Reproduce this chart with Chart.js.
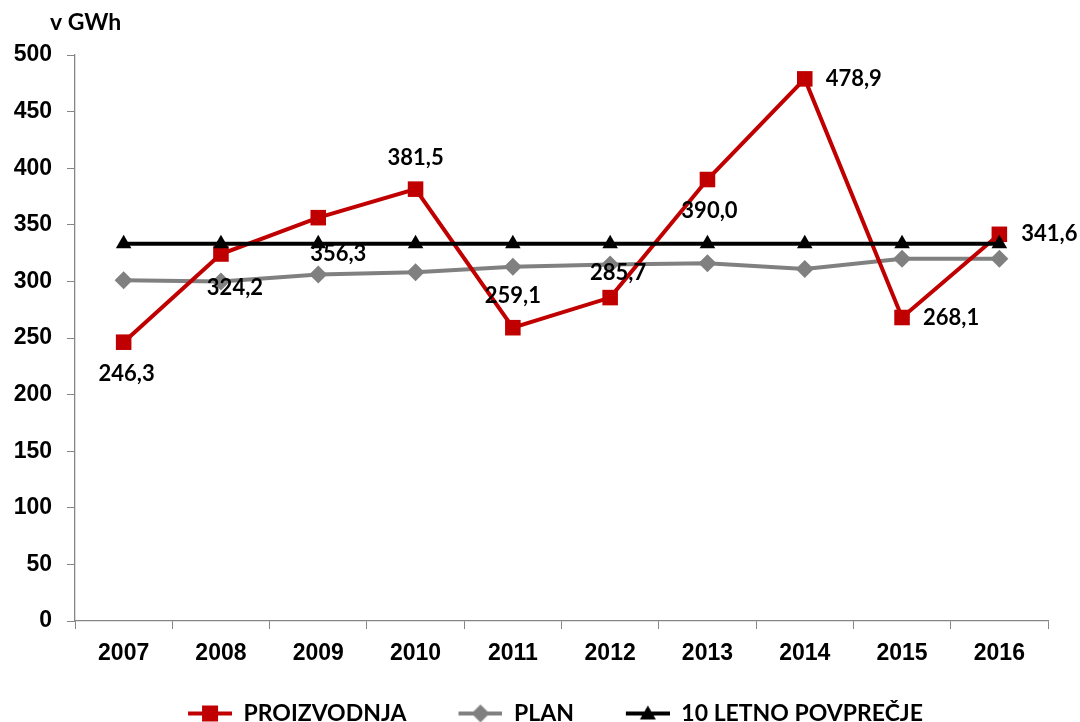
<!DOCTYPE html>
<html>
<head>
<meta charset="utf-8">
<script src="https://cdn.jsdelivr.net/npm/chart.js@4.4.1/dist/chart.umd.min.js"></script>
<style>
  html, body { margin: 0; padding: 0; background: #fff; }
  #wrap { width: 1080px; height: 722px; }
</style>
</head>
<body>
<div id="wrap"><canvas id="chart"></canvas></div>
<script>
// podatki
const leta = ['2007', '2008', '2009', '2010', '2011', '2012', '2013', '2014', '2015', '2016'];
const proizvodnja = [246.3, 324.2, 356.3, 381.5, 259.1, 285.7, 390.0, 478.9, 268.1, 341.6];
const plan = [301, 300, 306, 308, 313, 315, 316, 311, 320, 320];
const povprecje = [333.2, 333.2, 333.2, 333.2, 333.2, 333.2, 333.2, 333.2, 333.2, 333.2];
const yTicks = [0, 50, 100, 150, 200, 250, 300, 350, 400, 450, 500];

// ikona za legendo: črta z oznako
function ikona(barva, oblika, lead) {
    const c = document.createElement('canvas');
    c.width = lead + 44;
    c.height = 20;
    const ctx = c.getContext('2d');
    ctx.strokeStyle = barva;
    ctx.fillStyle = barva;
    ctx.lineWidth = 4;
    ctx.beginPath();
    ctx.moveTo(lead, 10);
    ctx.lineTo(lead + 44, 10);
    ctx.stroke();
    const cx = lead + 22;
    ctx.beginPath();
    if (oblika === 'rect') {
        ctx.rect(cx - 8, 2, 16, 16);
    } else if (oblika === 'diamond') {
        ctx.moveTo(cx, 1); ctx.lineTo(cx + 9, 10); ctx.lineTo(cx, 19); ctx.lineTo(cx - 9, 10);
    } else {
        ctx.moveTo(cx, 2); ctx.lineTo(cx + 8, 16); ctx.lineTo(cx - 8, 16);
    }
    ctx.closePath();
    ctx.fill();
    return c;
}

const LEAD = 50;

// oznake vrednosti za proizvodnjo
const oznakePlugin = {
    id: 'oznake',
    afterDatasetsDraw(chart, args, opts) {
        const ctx = chart.ctx;
        const meta = chart.getDatasetMeta(0);
        ctx.save();
        ctx.font = 'bold 22px Lato, sans-serif';
        ctx.fillStyle = '#000';
        ctx.textAlign = 'center';
        ctx.textBaseline = 'middle';
        meta.data.forEach(function (pt, i) {
            const o = opts.zamiki[i];
            const txt = proizvodnja[i].toFixed(1).replace('.', ',');
            ctx.fillText(txt, pt.x + o[0], pt.y + o[1]);
        });
        // enota
        ctx.textAlign = 'left';
        ctx.font = 'bold 23px Lato, sans-serif';
        ctx.fillText('v GWh', 50, 23);
        ctx.restore();
    }
};

new Chart(document.getElementById('chart'), {
    type: 'line',
    data: {
        labels: leta,
        datasets: [
            {
                label: 'PROIZVODNJA',
                data: proizvodnja,
                borderColor: '#C00000',
                backgroundColor: '#C00000',
                borderWidth: 4,
                pointStyle: 'rect',
                pointRadius: 11,
                pointBorderWidth: 0,
                tension: 0,
                order: 1
            },
            {
                label: 'PLAN',
                data: plan,
                borderColor: '#808080',
                backgroundColor: '#808080',
                borderWidth: 4,
                pointStyle: 'rectRot',
                pointRadius: 9,
                pointBorderWidth: 0,
                tension: 0,
                order: 2
            },
            {
                label: '10 LETNO POVPREČJE',
                data: povprecje,
                borderColor: '#000000',
                backgroundColor: '#000000',
                borderWidth: 4,
                pointStyle: 'triangle',
                pointRadius: 9,
                pointBorderWidth: 0,
                tension: 0,
                order: 0
            }
        ]
    },
    options: {
        responsive: true,
        maintainAspectRatio: false,
        animation: false,
        devicePixelRatio: 1,
        layout: {
            padding: { top: 55, left: 13, right: 32, bottom: -13 }
        },
        plugins: {
            tooltip: { enabled: false },
            oznake: {
                zamiki: [[3, 32], [14, 34], [20, 36], [0, -31], [0, -32], [8, -25], [2, 31], [49, 0], [49, 0], [50, 0]]
            },
            legend: {
                position: 'bottom',
                labels: {
                    usePointStyle: true,
                    pointStyleWidth: LEAD + 44,
                    color: '#000',
                    font: { family: 'Lato, sans-serif', size: 23, weight: 'bold', lineHeight: 1 },
                    padding: 2,
                    sort: function (a, b) { return a.datasetIndex - b.datasetIndex; },
                    generateLabels: function (chart) {
                        const oblike = ['rect', 'diamond', 'triangle'];
                        return chart.data.datasets.map(function (ds, i) {
                            return {
                                text: ds.label,
                                datasetIndex: i,
                                fontColor: '#000',
                                pointStyle: ikona(ds.borderColor, oblike[i], LEAD),
                                lineWidth: 0,
                                hidden: false
                            };
                        });
                    }
                }
            }
        },
        scales: {
            x: {
                offset: true,
                grid: {
                    offset: true,
                    drawOnChartArea: false,
                    tickLength: 8,
                    color: '#868686'
                },
                border: { color: '#868686', width: 1.3 },
                ticks: {
                    color: '#000',
                    padding: 11,
                    font: { family: "'Liberation Sans', Arial, sans-serif", size: 23, weight: 'bold' }
                },
                afterFit: function (scale) { scale.height = 79; }
            },
            y: {
                min: yTicks[0],
                max: yTicks[yTicks.length - 1],
                grid: {
                    drawOnChartArea: false,
                    tickLength: 8,
                    color: '#868686'
                },
                border: { color: '#868686', width: 1.3 },
                ticks: {
                    color: '#000',
                    padding: 15,
                    stepSize: yTicks[1] - yTicks[0],
                    callback: function (v) { return String(v); },
                    font: { family: "'Liberation Sans', Arial, sans-serif", size: 23, weight: 'bold' }
                },
                afterFit: function (scale) { scale.width = 62; }
            }
        }
    },
    plugins: [oznakePlugin]
});
</script>
</body>
</html>
